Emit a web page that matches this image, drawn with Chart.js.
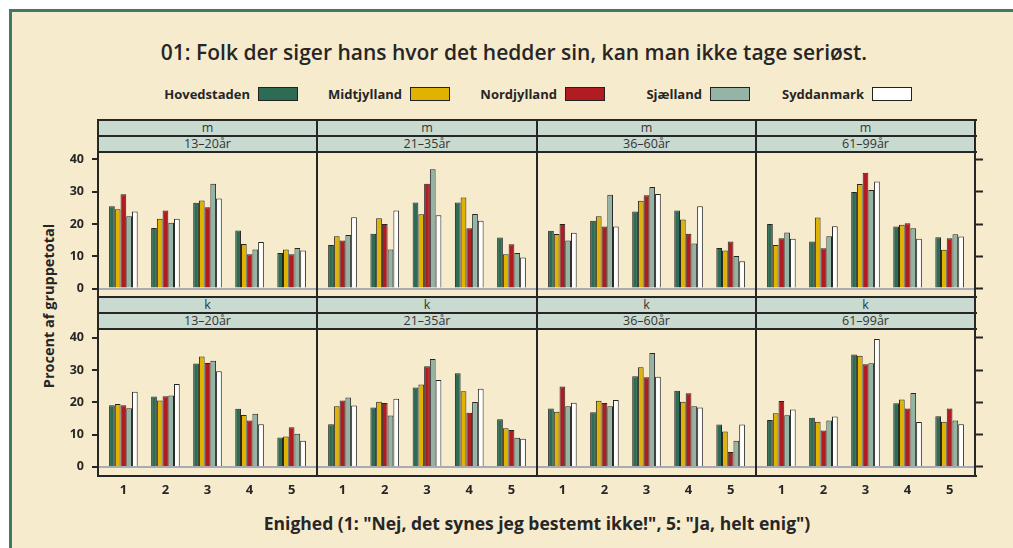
<!DOCTYPE html>
<html><head><meta charset="utf-8">
<script src="https://cdn.jsdelivr.net/npm/chart.js@4.4.1/dist/chart.umd.min.js"></script>
<style>
html,body{margin:0;padding:0;background:#fff;width:1013px;height:548px;overflow:hidden;position:relative;}
#frame{position:absolute;left:9px;top:9px;width:1020px;height:560px;background:#f7ebcd;border-left:3px solid #3f7b61;border-top:3px solid #3f7b61;box-sizing:border-box;}
.abs{position:absolute;}
.txt{font-family:"Open Sans",sans-serif;color:#262626;white-space:nowrap;}
#title{left:0;width:1028px;top:39px;text-align:center;font-size:21px;font-weight:600;line-height:26px;}
.legtxt{font-size:13px;font-weight:700;line-height:16px;text-align:right;}
.legbox{width:40px;height:14px;border:1px solid #222;box-sizing:border-box;}
.strip{background:#c9dad1;text-align:center;font-size:12.5px;line-height:16px;font-weight:500;color:#333;}
.hl{background:#262626;height:2px;}
.vl{background:#262626;width:2px;}
#ytitle{font-size:14.5px;font-weight:700;left:48px;top:306px;transform:translate(-50%,-50%) rotate(-90deg);}
#xtitle{font-size:17.5px;font-weight:700;left:0;width:1074px;top:512px;text-align:center;line-height:22px;}
canvas{position:absolute;}
</style></head>
<body>
<div id="frame"></div>
<div id="title" class="abs txt">01: Folk der siger hans hvor det hedder sin, kan man ikke tage seriøst.</div>
<div id="ytitle" class="abs txt">Procent af gruppetotal</div>
<div id="xtitle" class="abs txt">Enighed (1: "Nej, det synes jeg bestemt ikke!", 5: "Ja, helt enig")</div>
<div id="root"></div>
<script>
// ---- data ----
const regions = ['Hovedstaden', 'Midtjylland', 'Nordjylland', 'Sjælland', 'Syddanmark'];
const regionColors = ['#2d6b55', '#e0b300', '#b01c22', '#94b4a6', '#ffffff'];
const genders = ['m', 'k'];
const ageGroups = ['13–20år', '21–35år', '36–60år', '61–99år'];
const categories = [1, 2, 3, 4, 5];
const yTicks = [0, 10, 20, 30, 40];

// rows = regions (Hovedstaden, Midtjylland, Nordjylland, Sjælland, Syddanmark), cols = categories 1..5
const m_13_20 = [
  [25.5, 18.8, 26.6, 18.0, 11.0],
  [24.6, 21.6, 27.3, 13.8, 12.1],
  [29.2, 24.2, 25.2, 10.6, 10.6],
  [22.4, 20.4, 32.5, 12.1, 12.6],
  [23.9, 21.6, 27.9, 14.4, 11.8]
];
const m_21_35 = [
  [13.5, 17.0, 26.7, 26.7, 15.8],
  [16.2, 21.8, 23.0, 28.2, 10.6],
  [14.9, 20.0, 32.5, 18.7, 13.7],
  [16.6, 12.1, 37.0, 23.1, 11.0],
  [22.1, 24.2, 22.7, 21.0, 9.6]
];
const m_36_60 = [
  [17.9, 21.0, 23.9, 24.2, 12.6],
  [16.9, 22.4, 27.2, 21.4, 11.8],
  [20.0, 19.2, 28.9, 17.0, 14.6],
  [14.9, 29.1, 31.5, 14.0, 10.1],
  [17.3, 19.2, 29.3, 25.5, 8.5]
];
const m_61_99 = [
  [20.0, 14.6, 29.9, 19.2, 15.9],
  [13.5, 22.0, 32.4, 19.8, 12.0],
  [15.6, 12.5, 35.9, 20.2, 15.6],
  [17.4, 16.2, 30.5, 18.7, 16.8],
  [15.4, 19.3, 33.2, 15.4, 16.1]
];
const k_13_20 = [
  [19.1, 21.8, 32.0, 18.0, 9.1],
  [19.5, 20.6, 34.2, 16.1, 9.4],
  [19.1, 21.9, 32.2, 14.4, 12.3],
  [18.2, 22.1, 32.9, 16.5, 10.3],
  [23.3, 25.7, 29.6, 13.2, 8.1]
];
const k_21_35 = [
  [13.2, 18.4, 24.6, 29.0, 14.8],
  [18.8, 20.2, 25.5, 23.4, 12.0],
  [20.6, 19.8, 31.2, 16.8, 11.4],
  [21.5, 15.9, 33.4, 20.1, 9.0],
  [19.0, 21.1, 26.9, 24.2, 8.7]
];
const k_36_60 = [
  [18.1, 16.9, 28.1, 23.6, 13.1],
  [17.1, 20.5, 30.9, 20.2, 11.0],
  [24.9, 19.8, 27.8, 22.8, 4.6],
  [18.8, 18.8, 35.3, 18.8, 8.1],
  [19.9, 20.7, 27.9, 18.4, 13.1]
];
const k_61_99 = [
  [14.5, 15.2, 34.8, 19.7, 15.7],
  [16.6, 14.0, 34.4, 20.9, 14.0],
  [20.4, 11.3, 31.8, 18.1, 18.1],
  [16.0, 14.4, 32.1, 22.9, 14.4],
  [17.8, 15.6, 39.6, 13.9, 13.2]
];
const panelData = [
  [m_13_20, m_21_35, m_36_60, m_61_99],
  [k_13_20, k_21_35, k_36_60, k_61_99]
];

// ---- layout ----
const colX = [98, 317, 537, 756, 975];
const rowBox = [[120, 297], [297, 476]];
const stripH = 16;
const yRange = [[-2.3, 42.0], [-2.5, 42.4]];
const xRange = [0.42, 5.58];
const root = document.getElementById('root');
const FONT = '"Open Sans", sans-serif';

function el(cls, style, text) {
  const d = document.createElement('div');
  d.className = cls;
  Object.assign(d.style, style);
  if (text !== undefined) d.textContent = text;
  root.appendChild(d);
  return d;
}

// legend
const legBoxX = [258, 410, 565, 710, 872];
regions.forEach((r, i) => {
  el('abs txt legtxt', {left: (legBoxX[i] - 208) + 'px', width: '200px', top: '86px'}, r);
  el('abs legbox', {left: legBoxX[i] + 'px', top: '87px', background: regionColors[i]});
});

function tickAfterBuild(vals) {
  return s => { s.ticks = vals.map(v => ({value: v})); };
}
function noPad(s) { s.paddingTop = 0; s.paddingBottom = 0; s.paddingLeft = 0; s.paddingRight = 0; }

for (let r = 0; r < 2; r++) {
  for (let c = 0; c < 4; c++) {
    const [rt, rb] = rowBox[r];
    // strips
    el('abs txt strip', {left: colX[c] + 'px', top: rt + 'px', width: (colX[c+1] - colX[c]) + 'px', height: stripH + 'px'}, genders[r]);
    el('abs txt strip', {left: colX[c] + 'px', top: (rt + stripH) + 'px', width: (colX[c+1] - colX[c]) + 'px', height: stripH + 'px'}, ageGroups[c]);

    const plotL = colX[c] + 1;
    const plotW = colX[c+1] - colX[c] - 2;
    const plotT = rt + 2 * stripH + 1;
    const plotH = rb - plotT - 1;
    const leftW = c === 0 ? 44 : 0;
    const rightW = c === 3 ? 9 : 0;
    const bottomH = r === 1 ? 26 : 0;

    const cv = document.createElement('canvas');
    const W = plotW + leftW + rightW, H = plotH + bottomH;
    cv.width = W; cv.height = H;
    cv.style.left = (plotL - leftW) + 'px';
    cv.style.top = plotT + 'px';
    cv.style.width = W + 'px'; cv.style.height = H + 'px';
    root.appendChild(cv);

    const data = panelData[r][c];
    const scales = {
      x: {
        type: 'linear', min: xRange[0], max: xRange[1], offset: false,
        display: r === 1,
        grid: {display: false, drawTicks: false, offset: false},
        border: {display: false},
        ticks: {font: {family: FONT, size: 13, weight: 'bold'}, color: '#262626', padding: 7,
                callback: v => String(v)},
        afterBuildTicks: tickAfterBuild(categories),
        afterFit: s => { s.height = bottomH; noPad(s); }
      },
      y: {
        type: 'linear', position: 'left', min: yRange[r][0], max: yRange[r][1],
        display: true,
        grid: {
          color: ctx => (ctx.tick && ctx.tick.value === 0) ? '#a9abb4' : 'rgba(0,0,0,0)',
          lineWidth: 2, drawTicks: c === 0, tickLength: 7, tickColor: '#262626', tickWidth: 2
        },
        border: {display: false},
        ticks: {display: c === 0, font: {family: FONT, size: 12.5, weight: 'bold'}, color: '#262626', padding: 8},
        afterBuildTicks: tickAfterBuild(yTicks),
        afterFit: s => { s.width = leftW; noPad(s); }
      }
    };
    if (c === 3) {
      scales.y2 = {
        type: 'linear', position: 'right', min: yRange[r][0], max: yRange[r][1],
        display: true,
        grid: {drawOnChartArea: false, drawTicks: true, tickLength: 9, tickColor: '#262626', tickWidth: 2},
        border: {display: false},
        ticks: {display: false},
        afterBuildTicks: tickAfterBuild(yTicks),
        afterFit: s => { s.width = rightW; noPad(s); }
      };
    }
    new Chart(cv, {
      type: 'bar',
      data: {
        labels: categories,
        datasets: regions.map((name, i) => ({
          label: name, data: data[i], yAxisID: 'y',
          backgroundColor: regionColors[i], borderColor: '#262626', borderWidth: 1
        }))
      },
      options: {
        responsive: false, animation: false, devicePixelRatio: 1,
        layout: {padding: 0},
        categoryPercentage: 0.68, barPercentage: 1.0,
        plugins: {legend: {display: false}, tooltip: {enabled: false}},
        scales
      }
    });
  }
}

// panel lines
[120, 136, 152, 297, 313, 329, 476].forEach(y => el('abs hl', {left: '97px', width: '880px', top: (y - 1) + 'px'}));
colX.forEach(x => el('abs vl', {left: (x - 1) + 'px', top: '119px', height: '358px'}));
</script>
</body></html>
